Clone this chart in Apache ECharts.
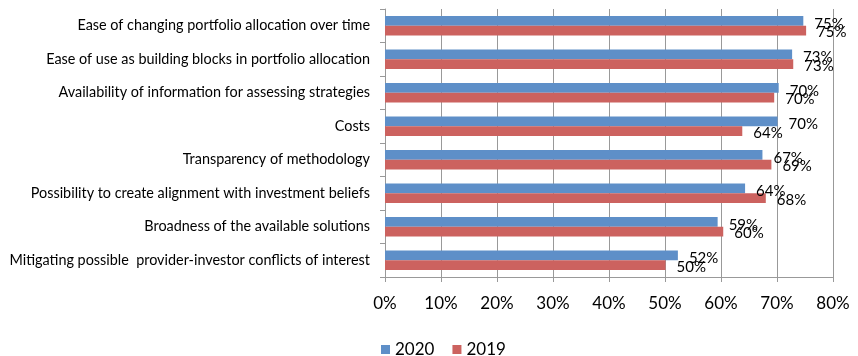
<!DOCTYPE html>
<html>
<head>
<meta charset="utf-8">
<script src="https://cdn.jsdelivr.net/npm/echarts@6/dist/echarts.min.js"></script>
<style>
  html, body { margin: 0; padding: 0; background: #fff; }
  #main { width: 858px; height: 356px; }
</style>
</head>
<body>
<div id="main"></div>
<script>
// categories, top to bottom
const categories = [
  'Ease of changing portfolio allocation over time',
  'Ease of use as building blocks in portfolio allocation',
  'Availability of information for assessing strategies',
  'Costs',
  'Transparency of methodology',
  'Possibility to create alignment with investment beliefs',
  'Broadness of the available solutions',
  'Mitigating possible  provider-investor conflicts of interest'
];
const values2020 = [74.7, 72.7, 70.3, 70.1, 67.4, 64.3, 59.4, 52.3];
const values2019 = [75.2, 72.9, 69.5, 63.8, 69.0, 68.0, 60.4, 50.1];
const xTicks = [0, 10, 20, 30, 40, 50, 60, 70, 80];

const font = 'Lato';
const chart = echarts.init(document.getElementById('main'));

const labelStyle = (dy) => ({
  show: true,
  position: 'right',
  distance: 11,
  offset: [0, dy],
  fontFamily: font,
  fontSize: 15,
  color: '#000',
  formatter: p => Math.round(p.value) + '%'
});

const option = {
  animation: false,
  textStyle: { fontFamily: font },
  grid: { left: 385, right: 25, top: 9, bottom: 79 },
  legend: {
    top: 336,
    left: 376,
    itemWidth: 9,
    itemHeight: 9,
    itemGap: 18,
    icon: 'rect',
    textStyle: { fontFamily: font, fontSize: 17, color: '#000' },
    data: ['2020', '2019']
  },
  xAxis: {
    type: 'value',
    min: 0,
    max: xTicks[xTicks.length - 1],
    interval: 10,
    axisLine: { show: true, lineStyle: { color: '#999' } },
    axisTick: { show: true, length: 5, lineStyle: { color: '#999' } },
    splitLine: { show: true, lineStyle: { color: '#999' } },
    axisLabel: { formatter: '{value}%', fontSize: 17, color: '#000', margin: 18, fontFamily: font }
  },
  yAxis: {
    type: 'category',
    inverse: true,
    data: categories,
    axisLine: { show: true, lineStyle: { color: '#999' } },
    axisTick: { show: true, length: 5, lineStyle: { color: '#999' } },
    axisLabel: { fontSize: 14.4, color: '#000', margin: 15, fontFamily: font }
  },
  series: [
    {
      name: '2020',
      type: 'bar',
      data: values2020,
      barGap: '0%',
      barCategoryGap: '42%',
      itemStyle: { color: '#5E8FC8' },
      label: labelStyle(3)
    },
    {
      name: '2019',
      type: 'bar',
      data: values2019,
      itemStyle: { color: '#CC625F' },
      label: labelStyle(2)
    }
  ]
};

chart.setOption(option);
</script>
</body>
</html>
